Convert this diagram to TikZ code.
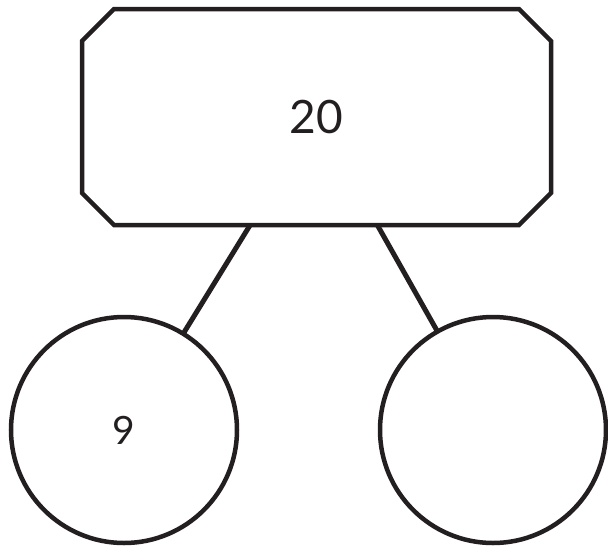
\documentclass[tikz,border=0pt]{standalone}
\usepackage{fontspec}
\setmainfont{Lato}
\usetikzlibrary{calc}
\definecolor{ink}{HTML}{231F20}
\begin{document}
\begin{tikzpicture}[x=1pt,y=-1pt,
  shape line/.style={draw=ink,line width=4.5pt,outer sep=0pt},
  topbox/.style={rectangle,minimum width=469pt,minimum height=216pt,inner sep=0pt,outer sep=0pt,
    font=\fontsize{46}{50}\selectfont,text=ink},
  leaf/.style={shape line,circle,minimum size=226pt,inner sep=0pt,
    font=\fontsize{39}{44}\selectfont,text=ink},
  link/.style={draw=ink,line width=5pt}]
\useasboundingbox (0,0) rectangle (608,547);
\node[topbox] (root) at (316.5,117) {20};
\draw[shape line,line join=miter]
  ($(root.north west)+(32,0)$) -- ($(root.north east)+(-32,0)$) -- ($(root.north east)+(0,32)$)
  -- ($(root.south east)+(0,-32)$) -- ($(root.south east)+(-32,0)$) -- ($(root.south west)+(32,0)$)
  -- ($(root.south west)+(0,-32)$) -- ($(root.north west)+(0,32)$) -- cycle;
\node[leaf] (left) at (124,430) {9};
\node[leaf] (right) at (493,430) {};
\draw[link] (root) -- (left);
\draw[link] (root) -- (right);
\end{tikzpicture}
\end{document}
